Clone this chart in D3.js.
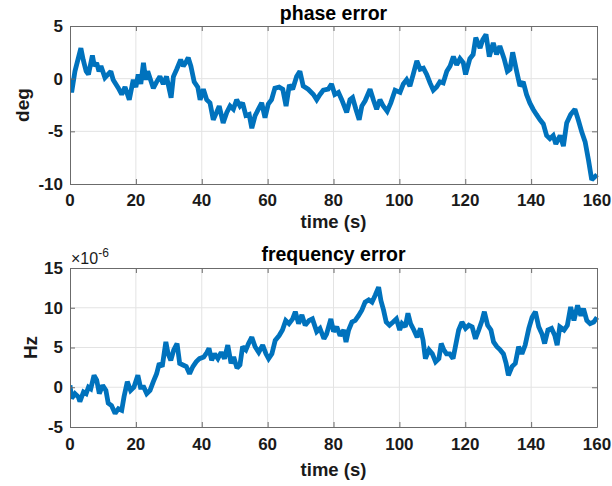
<!DOCTYPE html>
<html><head><meta charset="utf-8">
<script src="https://cdn.jsdelivr.net/npm/d3@7"></script>
<style>body{margin:0;background:#fff}svg{display:block}text{font-family:"Liberation Sans",Arial,Helvetica,sans-serif}</style>
</head><body>
<script>
// ---- data ----
const xTicks = [0,20,40,60,80,100,120,140,160];
const phaseTicks = [-10,-5,0,5];
const freqTicks = [-5,0,5,10,15];
const phaseTitle = "phase error", freqTitle = "frequency error";
const xLabel = "time (s)", phaseLabel = "deg", freqLabel = "Hz";
const phaseT = [0,0.5,1.5,3.3,4,4.9,5.6,6.8,7.4,8.1,8.8,9.4,10.6,12.4,13.1,14.7,15.7,16.7,18,19.2,20,20.7,21.5,22.3,23,23.6,25.3,26.3,27.3,28.3,29.3,30.7,31.4,32.4,33.6,34.4,35.1,35.9,36.7,37.7,38.8,39.5,40.5,41.5,42.5,43.5,44.5,45.3,46.5,47.6,48.6,49.6,50.6,51.6,52.4,53.4,54.4,55.2,56.2,57.2,58.2,59.2,60.2,61.2,62.2,63.5,64.6,65.6,66.6,67.6,68.8,69.8,70.8,72.3,73.9,74.9,75.9,76.9,78.4,79.4,80.4,81.5,82.5,84,85,85.8,86.8,87.8,88.6,89.6,91.1,92.1,93.1,94.1,95.1,96.3,97.4,98.7,100.2,101.2,102.2,103.2,104.2,105.3,106.3,107.3,108.3,109.3,110.3,111.3,112.3,113.3,114.4,115.4,116.4,117.4,118.4,119.4,120.1,121.4,122.4,123.2,124.5,125.3,126.3,127.3,128.5,129.5,130.5,131.8,132.8,133.6,134.4,135.6,136.6,137.6,138.6,139.6,140.6,141.6,142.7,143.7,144.7,145.7,146.7,147.5,148.8,149.8,150.8,152,153.3,154.3,155.4,156.4,157.4,158.4,159.4,160];
const phaseV = [0,-1.3,0.7,2.9,1.8,0.7,0.4,2.2,1.2,1.5,0.7,1.2,0.1,0.7,-0.1,-0.9,-1.5,-0.8,-2.0,-0.1,-0.8,0.4,-0.5,1.5,-0.1,0.7,-0.9,-0.3,0.2,-0.5,0.2,-1.8,0.2,0.9,1.8,1.2,1.5,2.0,1.2,-0.3,-0.8,-2.0,-1.0,-2.0,-2.3,-3.9,-3.2,-2.6,-4.2,-3.2,-2.6,-2.9,-2.0,-2.6,-2.3,-3.5,-3.4,-4.7,-3.5,-2.9,-2.3,-3.7,-2.4,-2.0,-0.9,-0.8,-1.0,-2.6,-0.6,-1.0,0.2,0.7,-0.7,-1.0,-1.5,-2.0,-1.5,-1.1,-1.0,-0.5,-1.5,-1.3,-2.0,-3.2,-2.0,-1.8,-2.9,-3.9,-2.6,-2.1,-1.0,-2.0,-2.9,-2.0,-2.6,-3.1,-2.3,-1.1,-1.3,-0.5,-0.1,-0.7,0.4,1.7,0.9,1.0,0.4,-0.4,-1.1,-0.8,-0.3,-0.4,0.7,1.2,2.1,1.3,1.9,1.5,0.4,1.9,2.3,3.9,2.9,3.7,4.2,2.1,3.4,2.3,3.1,1.9,0.7,0.9,2.5,0.7,-0.7,-0.3,-1.5,-2.3,-2.9,-3.4,-3.9,-4.3,-5.4,-5.7,-5.4,-6.2,-5.4,-6.4,-4.2,-3.4,-2.9,-3.9,-5.1,-6.0,-7.7,-9.6,-9.3,-9.1];
const freqT = [0,0.5,1.5,2.5,3,4.1,4.9,5.6,6.3,7.3,8.1,8.9,9.9,10.9,11.6,12.6,13.7,14.7,15.7,16.4,17.4,18.4,19.4,20.6,21.4,22.4,23.3,24.3,25.3,26.3,27.1,28,29.1,29.8,30.6,31.5,32.5,33.3,34.3,35.3,36.3,37.3,38.3,39.3,40.6,41.6,42.2,43,43.9,44.9,45.9,46.9,47.9,48.9,49.7,50.7,51.6,52.4,53.4,54.2,55.2,56.2,57.3,58.5,59.5,60.3,61.3,62.3,63.5,64.5,65.5,66.5,67.6,68.4,69.4,70.4,71.4,72.6,73.6,74.9,75.9,77.1,77.9,79.2,80,81,82,83.1,83.8,84.6,85.6,86.6,87.6,88.6,89.6,90.7,91.7,92.7,93.7,94.4,95.2,96,97,98.1,99.1,100.1,100.8,101.8,102.6,103.4,104.4,105.4,106.4,107.2,107.9,109,110,111,112,112.7,113.5,114.3,115.3,116.3,117,118,119,120.1,121.1,122.1,123.1,124.1,125.1,125.8,126.8,127.8,128.6,129.6,130.6,131.6,132.4,133.1,134.2,135.2,136.2,137.2,138.2,139.3,140.3,141.3,142.3,143.3,144.1,145.1,146.2,147.2,147.9,148.7,150,151,152,153,154.1,155.1,155.9,156.9,157.9,159,160];
const freqV = [0.25,-1.4,-0.8,-1.2,-1.8,-0.6,-0.8,0.0,-0.2,1.5,0.9,-0.8,0.25,-0.4,-2.0,-2.3,-3.3,-2.7,-2.9,-1.2,0.7,-0.4,0.0,1.5,0.0,0.0,-0.8,-0.4,0.7,1.7,3.0,2.6,5.7,4.2,3.4,4.7,5.5,3.0,2.8,2.6,1.7,2.6,3.2,3.6,3.8,4.4,4.9,3.4,4.2,3.6,4.4,3.6,5.3,3.0,3.8,2.4,2.8,5.1,4.7,5.5,6.3,5.1,4.4,5.3,4.2,3.6,4.2,5.9,6.5,7.2,8.4,8.0,8.6,9.5,8.0,9.1,7.8,8.4,8.6,7.0,7.4,6.1,6.7,8.6,7.0,7.6,6.5,7.2,5.7,7.2,8.2,8.4,9.0,9.7,10.7,11.0,10.7,11.6,12.6,10.9,9.7,8.2,7.8,8.2,8.6,7.2,8.0,7.6,9.3,8.0,7.2,6.3,7.4,5.9,3.6,4.7,4.2,3.2,3.6,5.5,4.7,4.2,4.2,3.6,5.1,7.2,8.2,7.4,7.8,7.6,6.1,7.2,8.4,9.5,7.8,7.2,5.7,5.1,4.7,4.2,3.0,1.5,2.6,3.0,5.1,4.2,5.3,7.4,8.8,9.5,7.6,6.7,5.5,7.2,7.4,6.5,5.3,7.6,7.2,7.8,10.1,8.4,10.3,9.0,9.9,8.4,8.0,8.2,8.8];

// ---- layout ----
const W = 612, H = 486;
const svg = d3.select("body").append("svg").attr("width", W).attr("height", H);
const x0 = 70, x1 = 597;
const panels = [
  {top: 26, bottom: 184, dom: [-10,5], ticks: phaseTicks, t: phaseT, v: phaseV, title: phaseTitle, ylab: phaseLabel, ylabX: 22, titleY: 20, tickY: 206, xlabY: 228, exp: false},
  {top: 268, bottom: 427, dom: [-5,15], ticks: freqTicks, t: freqT, v: freqV, title: freqTitle, ylab: freqLabel, ylabX: 30, titleY: 261, tickY: 450, xlabY: 476, exp: true}
];
const axisCol = "#6b6b6b", gridCol = "#e3e3e3", txtCol = "#1a1a1a";

panels.forEach((p, i) => {
  const x = d3.scaleLinear().domain([0,160]).range([x0, x1]);
  const y = d3.scaleLinear().domain(p.dom).range([p.bottom, p.top]);
  const g = svg.append("g");
  // grid
  g.append("g").selectAll("line.gx").data(xTicks.slice(1,-1)).join("line")
    .attr("x1", d => x(d)).attr("x2", d => x(d)).attr("y1", p.top).attr("y2", p.bottom)
    .attr("stroke", gridCol).attr("stroke-width", 1);
  g.append("g").selectAll("line.gy").data(p.ticks.slice(1,-1)).join("line")
    .attr("y1", d => y(d)).attr("y2", d => y(d)).attr("x1", x0).attr("x2", x1)
    .attr("stroke", gridCol).attr("stroke-width", 1);
  // data line
  const clipId = "clip" + i;
  svg.append("clipPath").attr("id", clipId).append("rect")
    .attr("x", x0).attr("y", p.top - 3).attr("width", x1 - x0 + 3).attr("height", p.bottom - p.top + 6);
  const line = d3.line().x((d, k) => x(p.t[k])).y(d => y(d));
  g.append("path").datum(p.v).attr("d", line).attr("fill", "none")
    .attr("stroke", "#0072BD").attr("stroke-width", 4.8).attr("stroke-linejoin", "miter").attr("stroke-miterlimit", 2)
    .attr("clip-path", `url(#${clipId})`);
  // axes (box with inward ticks)
  const tl = 5;
  const axB = d3.axisBottom(x).tickValues(xTicks).tickSizeInner(-tl).tickSizeOuter(0).tickPadding(0).tickFormat("");
  const axT = d3.axisTop(x).tickValues(xTicks).tickSizeInner(-tl).tickSizeOuter(0).tickFormat("");
  const axL = d3.axisLeft(y).tickValues(p.ticks).tickSizeInner(-tl).tickSizeOuter(0).tickFormat("");
  const axR = d3.axisRight(y).tickValues(p.ticks).tickSizeInner(-tl).tickSizeOuter(0).tickFormat("");
  [[axB, `translate(0,${p.bottom})`], [axT, `translate(0,${p.top})`], [axL, `translate(${x0},0)`], [axR, `translate(${x1},0)`]]
    .forEach(([ax, tr]) => {
      const a = g.append("g").attr("transform", tr).call(ax);
      a.selectAll("path.domain").attr("stroke", axisCol).attr("stroke-width", 1);
      a.selectAll("line").attr("stroke", axisCol).attr("stroke-width", 1);
    });
  // tick labels
  g.append("g").selectAll("text").data(xTicks).join("text")
    .attr("x", d => x(d)).attr("y", p.tickY).attr("text-anchor", "middle")
    .attr("font-size", 17).attr("font-weight", "bold").attr("fill", txtCol).text(d => d);
  g.append("g").selectAll("text").data(p.ticks).join("text")
    .attr("x", x0 - 7).attr("y", d => y(d)).attr("dy", "0.35em").attr("text-anchor", "end")
    .attr("font-size", 17).attr("font-weight", "bold").attr("fill", txtCol).text(d => d);
  // title
  g.append("text").attr("x", (x0 + x1) / 2).attr("y", p.titleY).attr("text-anchor", "middle")
    .attr("font-size", 19.5).attr("font-weight", "bold").attr("fill", "#000").text(p.title);
  // x label
  g.append("text").attr("x", (x0 + x1) / 2).attr("y", p.xlabY).attr("text-anchor", "middle")
    .attr("font-size", 18.5).attr("font-weight", "bold").attr("fill", txtCol).text(xLabel);
  // y label
  g.append("text").attr("transform", `translate(${p.ylabX},${(p.top + p.bottom) / 2}) rotate(-90)`)
    .attr("text-anchor", "middle").attr("dy", "0.35em")
    .attr("font-size", 19).attr("font-weight", "bold").attr("fill", txtCol).text(p.ylab);
  if (p.exp) {
    const t = g.append("text").attr("x", x0 + 1).attr("y", p.top - 4).attr("font-size", 16).attr("fill", txtCol);
    t.append("tspan").text("\u00d710");
    t.append("tspan").attr("dy", -7).attr("font-size", 12).text("-6");
  }
});
</script>
</body></html>
